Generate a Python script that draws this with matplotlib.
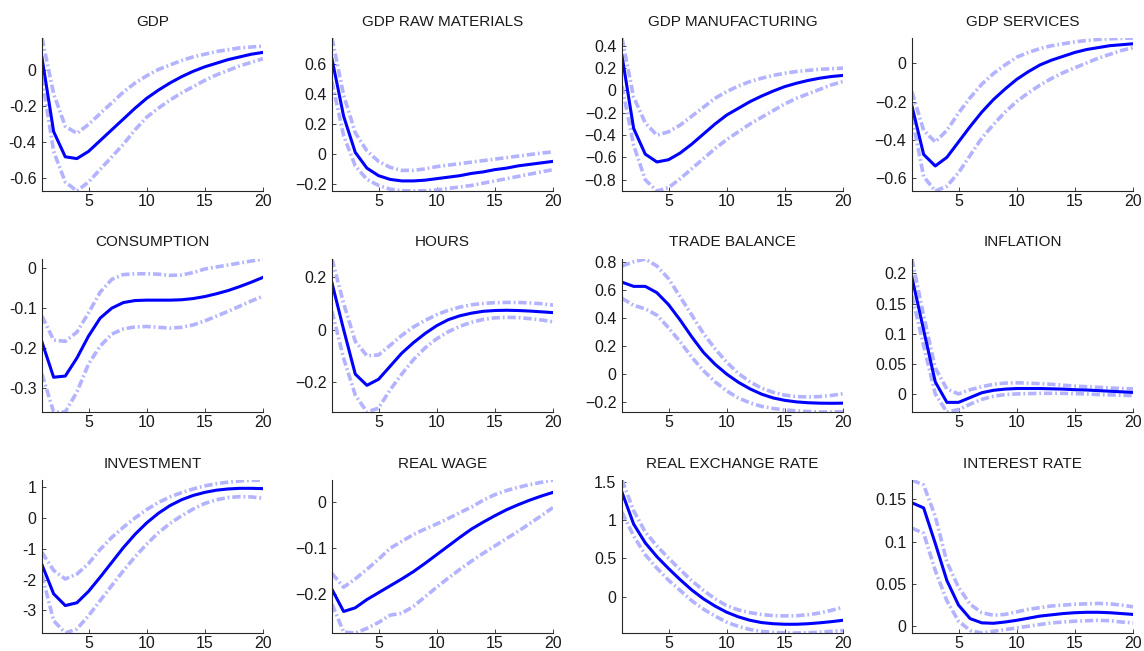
import numpy as np
import matplotlib
matplotlib.use("Agg")
import matplotlib.pyplot as plt
from matplotlib.ticker import FixedLocator, FuncFormatter

plt.rcParams['font.family'] = ['Liberation Sans', 'DejaVu Sans']

horizon = np.arange(1, 21)

titles = ['GDP', 'GDP RAW MATERIALS', 'GDP MANUFACTURING', 'GDP SERVICES',
          'CONSUMPTION', 'HOURS', 'TRADE BALANCE', 'INFLATION',
          'INVESTMENT', 'REAL WAGE', 'REAL EXCHANGE RATE', 'INTEREST RATE']

# median responses
gdp = [0.07, -0.34, -0.48, -0.49, -0.45, -0.39, -0.33, -0.27, -0.21, -0.155, -0.11, -0.07,
       -0.035, -0.005, 0.02, 0.04, 0.06, 0.075, 0.09, 0.10]
gdp_raw = [0.63, 0.25, 0.01, -0.095, -0.145, -0.17, -0.18, -0.18, -0.175, -0.165, -0.155, -0.145,
           -0.13, -0.12, -0.105, -0.095, -0.08, -0.07, -0.06, -0.05]
gdp_man = [0.31, -0.34, -0.57, -0.64, -0.62, -0.56, -0.48, -0.39, -0.30, -0.22, -0.16, -0.10,
           -0.05, -0.005, 0.035, 0.065, 0.09, 0.11, 0.125, 0.135]
gdp_serv = [-0.225, -0.475, -0.535, -0.49, -0.41, -0.33, -0.255, -0.19, -0.135, -0.085, -0.045, -0.01,
            0.015, 0.035, 0.055, 0.07, 0.08, 0.09, 0.095, 0.10]
consumption = [-0.185, -0.273, -0.27, -0.225, -0.17, -0.125, -0.1, -0.086, -0.081, -0.08, -0.08, -0.08,
               -0.079, -0.076, -0.071, -0.064, -0.056, -0.046, -0.035, -0.023]
hours = [0.178, 0.0, -0.17, -0.213, -0.19, -0.14, -0.09, -0.05, -0.015, 0.015, 0.038, 0.053,
         0.063, 0.07, 0.073, 0.074, 0.073, 0.071, 0.068, 0.065]
trade_bal = [0.655, 0.625, 0.625, 0.58, 0.495, 0.385, 0.265, 0.155, 0.07, 0.0, -0.058, -0.105,
             -0.143, -0.17, -0.187, -0.198, -0.204, -0.207, -0.208, -0.207]
inflation = [0.193, 0.106, 0.02, -0.014, -0.014, -0.006, 0.002, 0.006, 0.008, 0.009, 0.009, 0.009,
             0.0085, 0.008, 0.007, 0.0065, 0.0055, 0.0045, 0.0035, 0.0025]
investment = [-1.52, -2.46, -2.84, -2.75, -2.38, -1.92, -1.44, -0.96, -0.53, -0.16, 0.15, 0.40,
              0.59, 0.73, 0.83, 0.90, 0.94, 0.96, 0.96, 0.95]
real_wage = [-0.19, -0.238, -0.23, -0.212, -0.197, -0.182, -0.167, -0.151, -0.133, -0.114, -0.095, -0.076,
             -0.058, -0.043, -0.029, -0.016, -0.005, 0.005, 0.014, 0.022]
rer = [1.36, 0.945, 0.70, 0.52, 0.365, 0.22, 0.085, -0.03, -0.125, -0.205, -0.265, -0.31,
       -0.34, -0.355, -0.362, -0.362, -0.355, -0.343, -0.328, -0.31]
interest = [0.146, 0.14, 0.098, 0.054, 0.025, 0.009, 0.004, 0.0035, 0.005, 0.007, 0.0095, 0.012,
            0.0135, 0.015, 0.016, 0.0165, 0.0165, 0.016, 0.015, 0.014]

# upper bands
gdp_hi = [0.18, -0.13, -0.31, -0.35, -0.30, -0.24, -0.18, -0.12, -0.07, -0.03, 0.005, 0.03,
          0.055, 0.075, 0.09, 0.105, 0.115, 0.125, 0.13, 0.135]
gdp_raw_hi = [0.77, 0.39, 0.14, 0.02, -0.05, -0.09, -0.11, -0.11, -0.10, -0.085, -0.075, -0.065,
              -0.055, -0.045, -0.035, -0.025, -0.015, -0.005, 0.005, 0.013]
gdp_man_hi = [0.47, -0.06, -0.29, -0.40, -0.37, -0.31, -0.23, -0.15, -0.07, -0.01, 0.04, 0.08,
              0.11, 0.135, 0.155, 0.17, 0.18, 0.19, 0.195, 0.2]
gdp_serv_hi = [-0.15, -0.35, -0.41, -0.35, -0.26, -0.18, -0.11, -0.055, -0.01, 0.03, 0.055, 0.075,
               0.09, 0.10, 0.11, 0.117, 0.122, 0.126, 0.128, 0.13]
consumption_hi = [-0.12, -0.18, -0.183, -0.16, -0.112, -0.06, -0.028, -0.016, -0.014, -0.014, -0.015, -0.018,
                  -0.017, -0.011, -0.002, 0.003, 0.008, 0.013, 0.018, 0.023]
hours_hi = [0.27, 0.10, -0.045, -0.10, -0.097, -0.06, -0.022, 0.01, 0.035, 0.057, 0.074, 0.086,
            0.095, 0.1, 0.103, 0.104, 0.104, 0.102, 0.099, 0.094]
trade_bal_hi = [0.77, 0.80, 0.82, 0.77, 0.68, 0.55, 0.42, 0.29, 0.18, 0.085, 0.005, -0.055,
                -0.1, -0.13, -0.15, -0.16, -0.163, -0.16, -0.152, -0.14]
inflation_hi = [0.224, 0.13, 0.043, 0.008, 0.0, 0.007, 0.012, 0.016, 0.018, 0.0185, 0.018, 0.017,
                0.016, 0.0145, 0.013, 0.012, 0.011, 0.01, 0.009, 0.0085]
investment_hi = [-1.12, -1.70, -1.98, -1.82, -1.48, -1.02, -0.63, -0.30, 0.0, 0.27, 0.50, 0.68,
                 0.82, 0.94, 1.04, 1.11, 1.16, 1.20, 1.22, 1.23]
real_wage_hi = [-0.155, -0.185, -0.167, -0.146, -0.124, -0.1, -0.085, -0.07, -0.058, -0.047, -0.035, -0.022,
                -0.01, 0.005, 0.017, 0.026, 0.033, 0.039, 0.044, 0.049]
rer_hi = [1.52, 1.12, 0.84, 0.66, 0.50, 0.35, 0.205, 0.08, -0.03, -0.12, -0.175, -0.21,
          -0.235, -0.25, -0.253, -0.25, -0.238, -0.215, -0.18, -0.14]
interest_hi = [0.173, 0.167, 0.13, 0.076, 0.046, 0.026, 0.016, 0.013, 0.014, 0.017, 0.02, 0.022,
               0.024, 0.025, 0.026, 0.0265, 0.027, 0.0265, 0.025, 0.023]

# lower bands
gdp_lo = [-0.04, -0.45, -0.62, -0.67, -0.62, -0.55, -0.48, -0.41, -0.33, -0.26, -0.21, -0.165,
          -0.125, -0.09, -0.055, -0.025, 0.0, 0.025, 0.045, 0.065]
gdp_raw_lo = [0.48, 0.12, -0.08, -0.17, -0.21, -0.235, -0.245, -0.247, -0.245, -0.24, -0.23, -0.22,
              -0.21, -0.195, -0.18, -0.165, -0.15, -0.135, -0.12, -0.105]
gdp_man_lo = [0.04, -0.49, -0.80, -0.90, -0.87, -0.79, -0.70, -0.61, -0.52, -0.44, -0.37, -0.30,
              -0.24, -0.18, -0.12, -0.07, -0.03, 0.01, 0.05, 0.08]
gdp_serv_lo = [-0.28, -0.59, -0.665, -0.64, -0.57, -0.48, -0.39, -0.32, -0.255, -0.20, -0.155, -0.115,
               -0.08, -0.05, -0.025, 0.0, 0.025, 0.045, 0.065, 0.08]
consumption_lo = [-0.265, -0.36, -0.36, -0.31, -0.24, -0.195, -0.165, -0.152, -0.147, -0.146, -0.148, -0.15,
                  -0.148, -0.142, -0.132, -0.12, -0.108, -0.095, -0.082, -0.07]
hours_lo = [0.07, -0.11, -0.25, -0.315, -0.30, -0.23, -0.17, -0.115, -0.07, -0.035, -0.008, 0.013,
            0.028, 0.039, 0.045, 0.047, 0.046, 0.042, 0.037, 0.03]
trade_bal_lo = [0.54, 0.49, 0.465, 0.42, 0.33, 0.23, 0.12, 0.025, -0.055, -0.12, -0.17, -0.205,
                -0.23, -0.245, -0.255, -0.262, -0.267, -0.27, -0.27, -0.268]
inflation_lo = [0.163, 0.08, 0.0, -0.03, -0.026, -0.017, -0.009, -0.004, -0.001, 0.0, 0.0005, 0.001,
                0.001, 0.001, 0.0005, 0.0, -0.001, -0.0015, -0.002, -0.003]
investment_lo = [-1.85, -3.33, -3.73, -3.6, -3.17, -2.68, -2.19, -1.71, -1.26, -0.85, -0.48, -0.18,
                 0.07, 0.29, 0.47, 0.59, 0.66, 0.69, 0.68, 0.64]
real_wage_lo = [-0.222, -0.283, -0.285, -0.275, -0.262, -0.246, -0.242, -0.227, -0.206, -0.185, -0.165, -0.146,
                -0.128, -0.111, -0.095, -0.079, -0.063, -0.046, -0.029, -0.011]
rer_lo = [1.10, 0.79, 0.545, 0.37, 0.213, 0.08, -0.055, -0.165, -0.255, -0.335, -0.39, -0.43,
          -0.455, -0.468, -0.475, -0.476, -0.472, -0.465, -0.455, -0.445]
interest_lo = [0.116, 0.11, 0.066, 0.03, 0.006, -0.005, -0.008, -0.006, -0.004, -0.002, 0.0, 0.002,
               0.004, 0.005, 0.006, 0.0065, 0.007, 0.0065, 0.005, 0.004]

medians = [gdp, gdp_raw, gdp_man, gdp_serv, consumption, hours, trade_bal, inflation,
           investment, real_wage, rer, interest]
uppers = [gdp_hi, gdp_raw_hi, gdp_man_hi, gdp_serv_hi, consumption_hi, hours_hi, trade_bal_hi,
          inflation_hi, investment_hi, real_wage_hi, rer_hi, interest_hi]
lowers = [gdp_lo, gdp_raw_lo, gdp_man_lo, gdp_serv_lo, consumption_lo, hours_lo, trade_bal_lo,
          inflation_lo, investment_lo, real_wage_lo, rer_lo, interest_lo]

yticks = [[-0.6, -0.4, -0.2, 0], [-0.2, 0, 0.2, 0.4, 0.6], [-0.8, -0.6, -0.4, -0.2, 0, 0.2, 0.4],
          [-0.6, -0.4, -0.2, 0], [-0.3, -0.2, -0.1, 0], [-0.2, 0, 0.2],
          [-0.2, 0, 0.2, 0.4, 0.6, 0.8], [0, 0.05, 0.1, 0.15, 0.2], [-3, -2, -1, 0, 1],
          [-0.2, -0.1, 0], [0, 0.5, 1, 1.5], [0, 0.05, 0.1, 0.15]]
xticks = [5, 10, 15, 20]

# panels whose labels use a short hyphen for the minus sign
short_minus = {0, 4, 8}

fig = plt.figure(figsize=(11.44, 6.51), dpi=100)

lefts = [42, 332, 622, 912]
bottoms = [191, 412, 633]
w, h = 221, 153
band_style = dict(color='#b3b3ff', lw=2.6, linestyle=(0, (2.3, 0.8, 0.5, 0.8)))

for i in range(12):
    r, c = divmod(i, 4)
    ax = fig.add_axes([lefts[c] / 1144, 1 - bottoms[r] / 651, w / 1144, h / 651])
    ax.plot(horizon, uppers[i], **band_style)
    ax.plot(horizon, lowers[i], **band_style)
    ax.plot(horizon, medians[i], color='#0000ff', lw=2.2)

    lo = min(min(lowers[i]), min(medians[i]))
    hi = max(max(uppers[i]), max(medians[i]))
    ax.set_xlim(1, 20)
    ax.set_ylim(lo, hi)

    ax.xaxis.set_major_locator(FixedLocator(xticks))
    ax.yaxis.set_major_locator(FixedLocator(yticks[i]))
    if i in short_minus:
        ax.yaxis.set_major_formatter(FuncFormatter(lambda v, p: '%g' % v))
    else:
        ax.yaxis.set_major_formatter(FuncFormatter(lambda v, p: ('%g' % v).replace('-', '\u2212')))

    for side in ('top', 'right'):
        ax.spines[side].set_visible(False)
    for side in ('left', 'bottom'):
        ax.spines[side].set_color('#262626')
        ax.spines[side].set_linewidth(0.8)
    ax.tick_params(direction='in', length=3, width=0.6, labelsize=11.5,
                   colors='#262626', labelcolor='#1a1a1a', pad=4)
    ax.tick_params(axis='x', pad=2)
    ax.set_title(titles[i], fontsize=11, pad=9, color='#1a1a1a')

fig.savefig('out.png', dpi=100)
